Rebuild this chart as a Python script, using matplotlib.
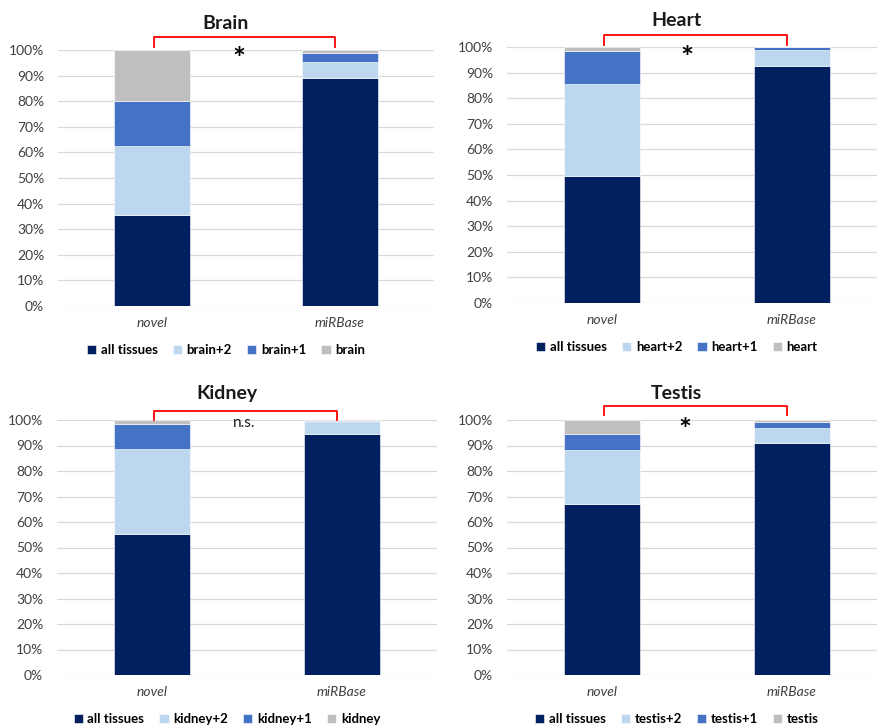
import numpy as np
import matplotlib
matplotlib.use("Agg")
import matplotlib.pyplot as plt
from matplotlib.ticker import PercentFormatter

plt.rcParams['font.family'] = ['Lato', 'DejaVu Sans']

# --- data (percent of miRNAs per class) ---
groups = ["novel", "miRBase"]
tissues = ["Brain", "Heart", "Kidney", "Testis"]
tissue_keys = ["brain", "heart", "kidney", "testis"]

all_tissues = {"Brain": [35.5, 89.0], "Heart": [49.5, 92.5],
               "Kidney": [55.3, 94.7], "Testis": [67.2, 91.0]}
plus2 = {"Brain": [27.0, 6.5], "Heart": [36.0, 6.5],
         "Kidney": [33.2, 4.6], "Testis": [21.0, 6.0]}
plus1 = {"Brain": [17.5, 3.3], "Heart": [13.0, 1.0],
         "Kidney": [10.0, 0.5], "Testis": [6.3, 2.2]}
only = {"Brain": [20.0, 1.2], "Heart": [1.5, 0.0],
        "Kidney": [1.5, 0.2], "Testis": [5.5, 0.8]}
signif = {"Brain": "*", "Heart": "*", "Kidney": "n.s.", "Testis": "*"}

colors = ["#002060", "#BDD7EE", "#4472C4", "#BFBFBF"]

W, H = 877, 727
fig = plt.figure(figsize=(W / 100, H / 100), dpi=100)

# axes boxes in pixels: left, right, y of 0%, y of 100%
boxes = {"Brain": (58, 434, 306, 50), "Heart": (507, 887, 303, 47),
         "Kidney": (57, 437, 675, 420), "Testis": (507, 887, 675, 420)}
# bracket (top %, bottom %) and text (x, y %)
brackets = {"Brain": (105.0, 101.0), "Heart": (104.7, 100.8),
            "Kidney": (103.6, 100.0), "Testis": (105.5, 102.0)}
sig_pos = {"Brain": (0.464, 96.0), "Heart": (0.447, 95.4),
           "Kidney": (0.487, 99.0), "Testis": (0.437, 95.8)}

x = np.arange(len(groups))
for t, key in zip(tissues, tissue_keys):
    l, r, y0, y1 = boxes[t]
    ax = fig.add_axes([l / W, 1 - y0 / H, (r - l) / W, (y0 - y1) / H])
    series = [all_tissues[t], plus2[t], plus1[t], only[t]]
    labels = ["all tissues", key + "+2", key + "+1", key]
    bottom = np.zeros(len(groups))
    for vals, c, lab in zip(series, colors, labels):
        ax.bar(x, vals, 0.4, bottom=bottom, color=c, label=lab,
               edgecolor="white", linewidth=0.4, zorder=3)
        bottom += np.array(vals)

    ax.set_xlim(-0.5, 1.5)
    ax.set_ylim(0, 100)
    ax.set_yticks(np.arange(0, 101, 10))
    ax.yaxis.set_major_formatter(PercentFormatter(decimals=0))
    ax.set_xticks(x)
    ax.set_xticklabels(groups, fontstyle="italic", fontsize=10, color="#404040")
    ax.tick_params(axis="y", length=0, pad=10, labelsize=10, labelcolor="#404040")
    ax.tick_params(axis="x", length=0, pad=8)
    ax.grid(axis="y", color="#D9D9D9", linewidth=0.9, zorder=0)
    for s in ax.spines.values():
        s.set_visible(False)

    ax.text(0.446, 1.105, t, transform=ax.transAxes, ha="center", va="center",
            fontsize=14, fontweight="bold", color="#1a1a1a")

    top, bot = brackets[t]
    ax.plot([0.01, 0.01, 0.975, 0.975], [bot, top, top, bot], color="red",
            linewidth=1.3, clip_on=False, zorder=5)
    sx, sy = sig_pos[t]
    if signif[t] == "*":
        ax.text(sx, sy, "*", ha="center", va="center", fontsize=22,
                fontweight="bold", color="black", clip_on=False, zorder=6)
    else:
        ax.text(sx, sy, signif[t], ha="center", va="center", fontsize=11,
                color="#1a1a1a", clip_on=False, zorder=6)

    ax.legend(loc="center", bbox_to_anchor=(0.447, -0.172), ncol=4,
              frameon=False, handlelength=0.7, handleheight=0.7,
              handletextpad=0.35, columnspacing=1.15,
              prop={"size": 9.5, "weight": "bold"})

fig.savefig("out.png", dpi=100)
